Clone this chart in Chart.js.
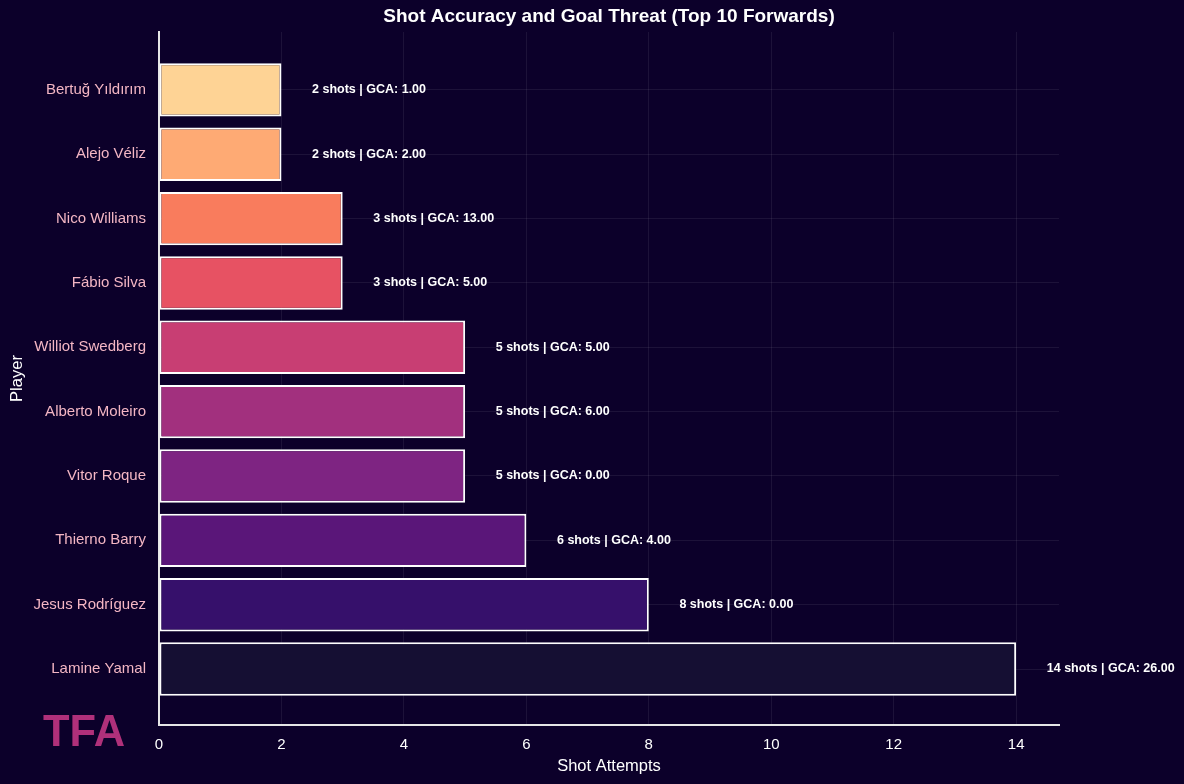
<!DOCTYPE html>
<html>
<head>
<meta charset="utf-8">
<script src="https://cdn.jsdelivr.net/npm/chart.js@4"></script>
<style>
    html, body { margin: 0; padding: 0; background: #0c002a; }
    #wrap { width: 1184px; height: 784px; }
</style>
</head>
<body>
<div id="wrap"><canvas id="shots-chart" width="1184" height="784"></canvas></div>
<script>
// bottom to top, like the picture
const players = ['Lamine Yamal', 'Jesus Rodríguez', 'Thierno Barry', 'Vitor Roque', 'Alberto Moleiro',
    'Williot Swedberg', 'Fábio Silva', 'Nico Williams', 'Alejo Véliz', 'Bertuğ Yıldırım'];
const shots = [14, 8, 6, 5, 5, 5, 3, 3, 2, 2];
const gca = [26, 0, 4, 0, 6, 5, 5, 13, 2, 1];
const barColors = ['#150f33', '#36106b', '#5a1679', '#7e2482', '#a2307e',
    '#c83e73', '#e75263', '#f97c5d', '#feaa74', '#fed395'];
const xTicks = [0, 2, 4, 6, 8, 10, 12, 14];

const FONT = '"Liberation Sans", Arial, sans-serif';

const titlePlugin = {
    id: 'titleAndLogo',
    afterDraw(chart) {
        const ctx = chart.ctx;
        const area = chart.chartArea;
        ctx.save();
        ctx.fillStyle = '#ffffff';
        ctx.font = 'bold 19px ' + FONT;
        ctx.textAlign = 'center';
        ctx.textBaseline = 'middle';
        ctx.fillText('Shot Accuracy and Goal Threat (Top 10 Forwards)', (area.left + area.right) / 2, 17);

        // logo
        ctx.font = 'bold 45px ' + FONT;
        ctx.fillStyle = '#b0307a';
        ctx.textAlign = 'left';
        ctx.textBaseline = 'alphabetic';
        const w = ctx.measureText('TFA').width;
        ctx.translate(43, 746);
        ctx.scale(82 / w, 1);
        ctx.fillText('TFA', 0, 0);
        ctx.restore();
    }
};

const valueLabels = {
    id: 'valueLabels',
    afterDatasetsDraw(chart) {
        const ctx = chart.ctx;
        const xs = chart.scales.x;
        const ys = chart.scales.y;
        ctx.save();
        ctx.fillStyle = '#ffffff';
        ctx.font = 'bold 12.5px ' + FONT;
        ctx.textAlign = 'left';
        ctx.textBaseline = 'middle';
        shots.forEach((s, i) => {
            ctx.fillText(s + ' shots | GCA: ' + gca[i].toFixed(2), xs.getPixelForValue(s + 0.5), ys.getPixelForValue(i));
        });
        ctx.restore();
    }
};

const ctx = document.getElementById('shots-chart').getContext('2d');
const shotsChart = new Chart(ctx, {
    type: 'bar',
    data: {
        datasets: [{
            label: 'Shot Attempts',
            data: shots.map((s, i) => ({ x: s, y: i })),
            backgroundColor: barColors,
            borderColor: '#ffffff',
            borderWidth: 2,
            borderSkipped: false,
            categoryPercentage: 1,
            barPercentage: 0.83,
        }]
    },
    options: {
        indexAxis: 'y',
        responsive: false,
        animation: false,
        layout: { padding: { top: 32, right: 125, bottom: 0, left: 0 } },
        plugins: {
            legend: { display: false },
            tooltip: { enabled: false },
        },
        scales: {
            x: {
                type: 'linear',
                min: 0,
                max: 14.7,
                afterBuildTicks: scale => { scale.ticks = xTicks.map(v => ({ value: v })); },
                afterFit: scale => { scale.height = 59; },
                grid: { color: 'rgba(255,255,255,0.07)', drawTicks: false },
                border: { color: '#e6e6e6', width: 2 },
                ticks: { color: '#ffffff', font: { size: 15, family: FONT }, padding: 11 },
                title: {
                    display: true,
                    text: 'Shot Attempts',
                    color: '#ffffff',
                    font: { size: 16.5, family: FONT },
                    padding: { top: 4, bottom: 8 },
                },
            },
            y: {
                type: 'linear',
                offset: false,
                min: -0.87,
                max: 9.9,
                afterBuildTicks: scale => { scale.ticks = players.map((p, i) => ({ value: i })); },
                afterFit: scale => { scale.width = 159; },
                grid: { color: 'rgba(255,255,255,0.07)', drawTicks: false, offset: false },
                border: { color: '#e6e6e6', width: 2 },
                ticks: {
                    color: '#f4b6c4',
                    font: { size: 15, family: FONT },
                    padding: 13,
                    callback: v => players[v],
                },
                title: {
                    display: true,
                    text: 'Player',
                    color: '#ffffff',
                    font: { size: 16.5, family: FONT },
                    padding: { top: 8, bottom: 4 },
                },
            }
        }
    },
    plugins: [titlePlugin, valueLabels]
});
</script>
</body>
</html>
